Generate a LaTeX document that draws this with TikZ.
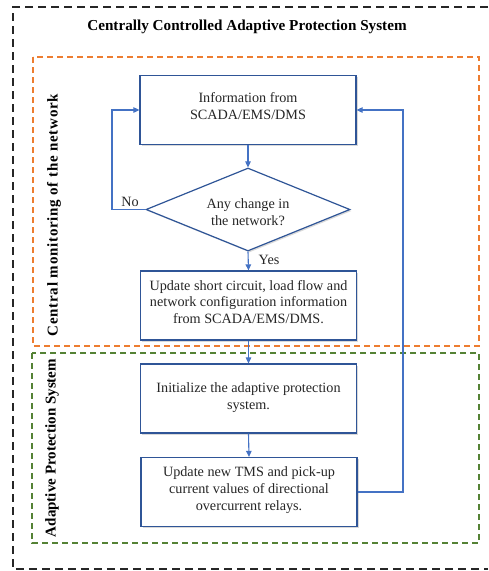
\documentclass[tikz,border=0pt]{standalone}
\usepackage{fontspec}
\setmainfont{Liberation Serif}
\usetikzlibrary{shapes.geometric,arrows.meta,shadows}

\definecolor{boxblue}{HTML}{2F5597}
\definecolor{flowblue}{HTML}{4472C4}
\definecolor{zoneorange}{HTML}{ED7D31}
\definecolor{zonegreen}{HTML}{548235}

\begin{document}
\begin{tikzpicture}[x=1pt,y=-1pt,
  procbox/.style={draw=boxblue, line width=1.2pt, fill=white, inner sep=0pt,
    minimum width=216pt, minimum height=69pt,
    drop shadow={shadow xshift=1.5pt, shadow yshift=-1.5pt, opacity=0.25, fill=black!60}},
  decision/.style={diamond, draw=boxblue, line width=1.2pt, fill=white, inner sep=0pt,
    minimum width=204pt, minimum height=83pt,
    drop shadow={shadow xshift=1.5pt, shadow yshift=-1.5pt, opacity=0.25, fill=black!60}},
  boxtext/.style={align=center, inner sep=0pt, text=black!85,
    font=\fontsize{14.2}{16.7}\selectfont},
  flow/.style={draw=flowblue, line width=1.1pt, -{Triangle[length=6pt,width=5.5pt]}},
  zone/.style={line width=1.3pt, dash pattern=on 6pt off 4pt},
  zonelabel/.style={rotate=90, font=\bfseries\fontsize{15}{17}\selectfont, inner sep=0pt},
]
\useasboundingbox (0,0) rectangle (488,571);

% outer frame (open on the right)
\draw[line width=1.5pt, dash pattern=on 8pt off 5pt, black!85]
  (488,7) -- (13,7) -- (13,569) -- (488,569);
\node[font=\bfseries\fontsize{15.2}{17}\selectfont, inner sep=0pt] (title) at (247,26.5)
  {Centrally Controlled Adaptive Protection System};

% monitoring and protection zones
\draw[zone, zoneorange] (33,57) rectangle (479,346);
\draw[zone, zonegreen] (32,353) rectangle (479,543);
\node[zonelabel] (monlabel) at (54,215)
  {\addfontfeature{LetterSpace=5}Central monitoring of the network};
\node[zonelabel] (protlabel) at (52,448) {Adaptive Protection System};

% process steps
\node[procbox] (info) at (248,110) {};
\node[boxtext] (infot) at ([yshift=4pt]info.center) {Information from\\SCADA/EMS/DMS};

\node[decision] (dec) at (248,209.5) {};
\node[boxtext] (dect) at ([yshift=-3pt]dec.center) {Any change in\\the network?};

\node[procbox] (upd) at (248.5,305.5) {};
\node[boxtext] (updt) at ([yshift=3.5pt]upd.center)
  {Update short circuit, load flow and\\network configuration information\\from SCADA/EMS/DMS.};

\node[procbox] (init) at (248.5,398.5) {};
\node[boxtext] (initt) at ([yshift=1pt]init.center)
  {Initialize the adaptive protection\\system.};

\node[procbox] (relay) at (249,492) {};
\node[boxtext] (relayt) at ([yshift=2pt]relay.center)
  {Update new TMS and pick-up\\current values of directional\\overcurrent relays.};

% connectors
\coordinate (noturn) at (112,209.5);
\coordinate (backturn) at (403,492);
\draw[flow] (info.south) -- (dec.north);
\draw[flow] (dec.west) -- (noturn) |- (info.west);
\draw[flow] (dec.south) -- (upd.north);
\draw[flow] (upd.south) -- (init.north);
\draw[flow] (init.south) -- (relay.north);
\draw[flow] (relay.east) -- (backturn) |- (info.east);

\node[boxtext] (nolab) at (130,202) {No};
\node[boxtext] (yeslab) at (269,260) {Yes};
\end{tikzpicture}
\end{document}
